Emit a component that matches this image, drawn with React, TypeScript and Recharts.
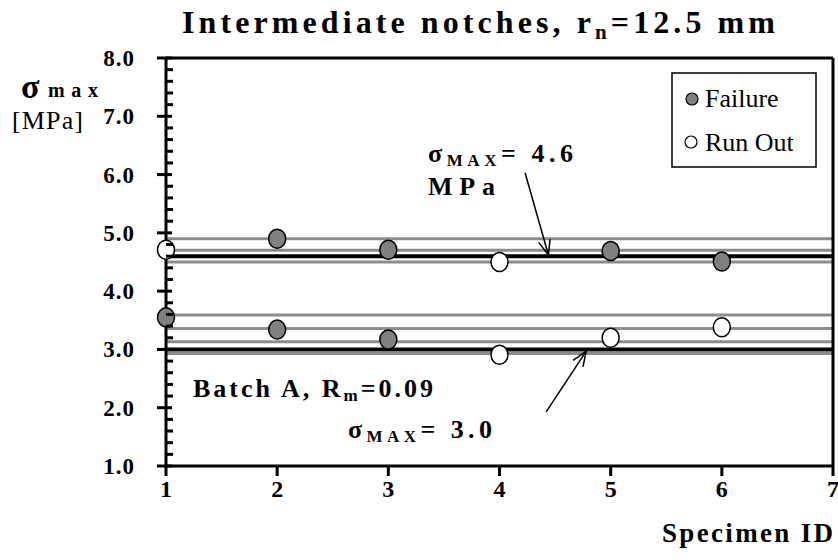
import { ScatterChart, Scatter, XAxis, YAxis, ReferenceLine } from 'recharts'

// specimen id / max stress (MPa)
const failureIds = [1, 2, 2, 3, 3, 5, 6]
const failureStress = [3.55, 4.9, 3.34, 4.71, 3.17, 4.69, 4.51]
const runOutIds = [1, 4, 4, 5, 6]
const runOutStress = [4.71, 4.5, 2.91, 3.2, 3.38]

// horizontal reference levels
const bandLevels = [4.9, 4.7, 4.5, 3.59, 3.36, 3.13, 2.93]
const meanLevels = [4.6, 3.0]

const xTicks = [1, 2, 3, 4, 5, 6, 7]
const yTicks = [
  1, 1.2, 1.4, 1.6, 1.8, 2, 2.2, 2.4, 2.6, 2.8, 3, 3.2, 3.4, 3.6, 3.8, 4, 4.2, 4.4, 4.6, 4.8,
  5, 5.2, 5.4, 5.6, 5.8, 6, 6.2, 6.4, 6.6, 6.8, 7, 7.2, 7.4, 7.6, 7.8, 8,
]

// arrows pointing at the mean lines, in data coords
const arrowUpper = [{ x: 4.23, y: 6.03 }, { x: 4.44, y: 4.62 }]
const arrowLower = [{ x: 4.42, y: 1.93 }, { x: 4.78, y: 2.97 }]

const failureData = failureIds.map((id, i) => ({ id, stress: failureStress[i] }))
const runOutData = runOutIds.map((id, i) => ({ id, stress: runOutStress[i] }))

const SERIF = '"Liberation Serif", "Times New Roman", serif'

const isMajor = (v: number) => Math.abs(v - Math.round(v)) < 1e-6

function YTick(props: any) {
  const { x, y, payload } = props
  const v = payload.value as number
  if (!isMajor(v)) {
    return <line x1={x} x2={x + 7} y1={y} y2={y} stroke="#000" strokeWidth={3} />
  }
  return (
    <g>
      <line x1={x - 9} x2={x + 6} y1={y} y2={y} stroke="#000" strokeWidth={3} />
      <text
        x={x - 31}
        y={y + 8}
        textAnchor="end"
        fontFamily={SERIF}
        fontWeight="bold"
        fontSize={23}
        letterSpacing={1}
        fill="#000"
      >
        {v.toFixed(1)}
      </text>
    </g>
  )
}

function XTick(props: any) {
  const { x, y, payload } = props
  return (
    <g>
      <line x1={x} x2={x} y1={y} y2={y + 10} stroke="#000" strokeWidth={3} />
      <text x={x} y={y + 31} textAnchor="middle" fontFamily={SERIF} fontWeight="bold" fontSize={24} fill="#000">
        {payload.value}
      </text>
    </g>
  )
}

function Dot(fill: string) {
  return (props: any) => (
    <ellipse cx={props.cx} cy={props.cy} rx={8.5} ry={9.5} fill={fill} stroke="#000" strokeWidth={1.5} />
  )
}

function Arrow(props: any) {
  const { x1, y1, x2, y2 } = props
  const a = Math.atan2(y2 - y1, x2 - x1)
  const len = 16
  const spread = 0.38
  const hx1 = x2 - len * Math.cos(a - spread)
  const hy1 = y2 - len * Math.sin(a - spread)
  const hx2 = x2 - len * Math.cos(a + spread)
  const hy2 = y2 - len * Math.sin(a + spread)
  return (
    <g>
      <line x1={x1} y1={y1} x2={x2} y2={y2} stroke="#000" strokeWidth={1.5} />
      <polyline points={`${hx1},${hy1} ${x2},${y2} ${hx2},${hy2}`} fill="none" stroke="#000" strokeWidth={1.5} />
    </g>
  )
}

export default function App() {
  return (
    <div style={{ position: 'relative', width: 838, height: 560, background: '#fff' }}>
      <style>{'body{margin:0}'}</style>
      <ScatterChart width={838} height={560} margin={{ top: 58, right: 5, bottom: 54, left: 106 }}>
        <XAxis
          type="number"
          dataKey="id"
          domain={[1, 7]}
          ticks={xTicks}
          interval={0}
          height={40}
          tickSize={0}
          tickMargin={0}
          tick={<XTick />}
          axisLine={false}
          tickLine={false}
        />
        <YAxis
          type="number"
          dataKey="stress"
          domain={[1, 8]}
          ticks={yTicks}
          interval={0}
          width={60}
          tickSize={0}
          tickMargin={0}
          tick={<YTick />}
          axisLine={false}
          tickLine={false}
        />
        {bandLevels.map((v) => (
          <ReferenceLine key={'b' + v} y={v} stroke="#8c8c8c" strokeWidth={3} />
        ))}
        {meanLevels.map((v) => (
          <ReferenceLine key={'m' + v} y={v} stroke="#000" strokeWidth={4} />
        ))}
        {/* frame: axes + top/right border */}
        <ReferenceLine y={1} stroke="#000" strokeWidth={3} />
        <ReferenceLine x={1} stroke="#000" strokeWidth={3} />
        <ReferenceLine y={8} stroke="#000" strokeWidth={3} />
        <ReferenceLine x={7} stroke="#000" strokeWidth={3} />
        <ReferenceLine segment={arrowUpper} shape={<Arrow />} />
        <ReferenceLine segment={arrowLower} shape={<Arrow />} />
        <Scatter name="Failure" data={failureData} shape={Dot('#808080')} isAnimationActive={false} />
        <Scatter name="Run Out" data={runOutData} shape={Dot('#ffffff')} isAnimationActive={false} />
      </ScatterChart>

      <svg
        width={838}
        height={560}
        style={{ position: 'absolute', left: 0, top: 0, pointerEvents: 'none' }}
        fontFamily={SERIF}
      >
        <text x={182} y={33} fontSize={32} fontWeight="bold" textLength={593} lengthAdjust="spacing">
          Intermediate notches, r<tspan fontSize={21} dy={6}>n</tspan>
          <tspan dy={-6}>=12.5 mm</tspan>
        </text>

        <text x={21} y={98} fontWeight="bold" fontSize={34}>
          σ
        </text>
        <text x={48} y={97} fontWeight="bold" fontSize={20} textLength={50} lengthAdjust="spacing">
          max
        </text>
        <text x={12} y={129} fontSize={26} textLength={71} lengthAdjust="spacing">
          [MPa]
        </text>

        <text x={662} y={542} fontSize={27} fontWeight="bold" textLength={171} lengthAdjust="spacing">
          Specimen ID
        </text>

        <text x={428} y={162} fontWeight="bold" fontSize={26} textLength={145} lengthAdjust="spacing">
          σ<tspan fontSize={17} dy={4}>MAX</tspan>
          <tspan dy={-4}>= 4.6</tspan>
        </text>
        <text x={428} y={195} fontWeight="bold" fontSize={26} textLength={67} lengthAdjust="spacing">
          MPa
        </text>

        <text x={193} y={397} fontWeight="bold" fontSize={26} textLength={240} lengthAdjust="spacing">
          Batch A, R<tspan fontSize={17} dy={4}>m</tspan>
          <tspan dy={-4}>=0.09</tspan>
        </text>
        <text x={348} y={438} fontWeight="bold" fontSize={26} textLength={144} lengthAdjust="spacing">
          σ<tspan fontSize={17} dy={4}>MAX</tspan>
          <tspan dy={-4}>= 3.0</tspan>
        </text>

        <rect x={672} y={73} width={144} height={94} fill="#fff" stroke="#000" strokeWidth={1.5} />
        <circle cx={692} cy={99} r={6} fill="#808080" stroke="#000" strokeWidth={1.2} />
        <text x={705} y={107} fontSize={26}>
          Failure
        </text>
        <circle cx={691} cy={142} r={6} fill="#fff" stroke="#000" strokeWidth={1.2} />
        <text x={705} y={151} fontSize={26}>
          Run Out
        </text>
      </svg>
    </div>
  )
}
